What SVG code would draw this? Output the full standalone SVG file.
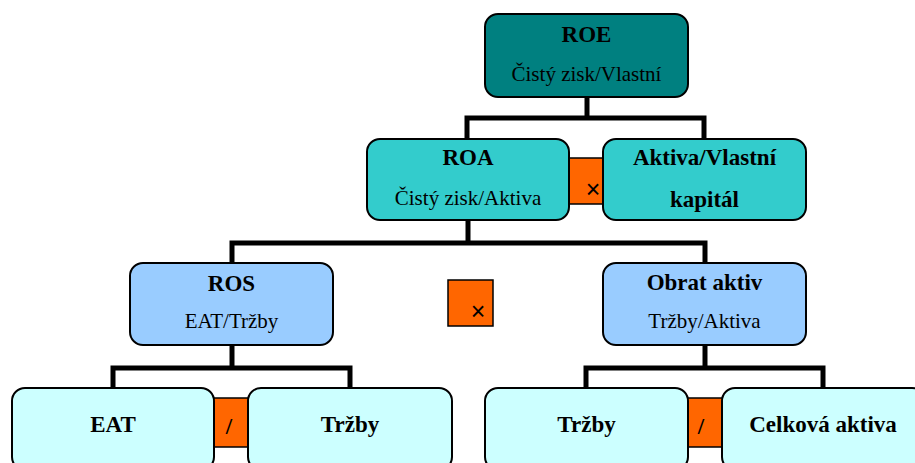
<svg xmlns="http://www.w3.org/2000/svg" width="915" height="463" viewBox="0 0 915 463">
<style>
.box{stroke:#000;stroke-width:2}
.op{fill:#FF6600;stroke:#000;stroke-width:1.5}
.conn{fill:none;stroke:#000;stroke-width:5;stroke-linejoin:miter;stroke-linecap:butt}
.t{font-family:"Liberation Serif","Times New Roman",serif;font-weight:bold;font-size:23px;text-anchor:middle;fill:#000}
.s{font-family:"Liberation Serif","Times New Roman",serif;font-size:21px;text-anchor:middle;fill:#000}
.x{font-family:"Liberation Sans",Arial,sans-serif;font-size:25px;text-anchor:middle;fill:#000}
</style>
<rect width="915" height="463" fill="#fff"/>
<g id="connectors">
<polyline class="conn" points="587,97 587,118"/>
<polyline class="conn" points="467,139 467,118 704,118 704,139"/>
<polyline class="conn" points="468,220 468,243"/>
<polyline class="conn" points="232,263 232,243 705,243 705,263"/>
<polyline class="conn" points="232,345 232,368"/>
<polyline class="conn" points="113,388 113,368 350,368 350,388"/>
<polyline class="conn" points="705,345 705,368"/>
<polyline class="conn" points="586,388 586,368 823,368 823,388"/>
</g>
<g id="op-mul-top">
<rect class="op" x="568" y="158" width="38" height="46"/>
<text class="x" x="593" y="198">×</text>
</g>
<g id="op-mul-mid">
<rect class="op" x="448" y="280" width="45" height="46"/>
<text class="x" x="478" y="320">×</text>
</g>
<g id="op-div-left">
<rect class="op" x="212" y="398" width="38" height="49"/>
<text class="t" x="229" y="434" font-size="25">/</text>
</g>
<g id="op-div-right">
<rect class="op" x="686" y="398" width="38" height="49"/>
<text class="t" x="701" y="434" font-size="25">/</text>
</g>
<g id="roe">
<rect class="box" x="485" y="14" width="203" height="83" rx="13" fill="#008080"/>
<text class="t" x="586.5" y="42">ROE</text>
<text class="s" x="586.5" y="81">Čistý zisk/Vlastní</text>
</g>
<g id="roa">
<rect class="box" x="367" y="139" width="202" height="81" rx="13" fill="#33CCCC"/>
<text class="t" x="468" y="165">ROA</text>
<text class="s" x="468" y="205">Čistý zisk/Aktiva</text>
</g>
<g id="aktiva-vlastni">
<rect class="box" x="603" y="139" width="203" height="81" rx="13" fill="#33CCCC"/>
<text class="t" x="704.5" y="165">Aktiva/Vlastní</text>
<text class="t" x="704.5" y="207">kapitál</text>
</g>
<g id="ros">
<rect class="box" x="130" y="263" width="203" height="82" rx="13" fill="#99CCFF"/>
<text class="t" x="231.5" y="291">ROS</text>
<text class="s" x="231.5" y="328">EAT/Tržby</text>
</g>
<g id="obrat-aktiv">
<rect class="box" x="603" y="263" width="203" height="82" rx="13" fill="#99CCFF"/>
<text class="t" x="704.5" y="290">Obrat aktiv</text>
<text class="s" x="704.5" y="328">Tržby/Aktiva</text>
</g>
<g id="eat">
<rect class="box" x="12" y="388" width="202" height="82" rx="13" fill="#CCFFFF"/>
<text class="t" x="113" y="432">EAT</text>
</g>
<g id="trzby-left">
<rect class="box" x="248" y="388" width="204" height="82" rx="13" fill="#CCFFFF"/>
<text class="t" x="350" y="432">Tržby</text>
</g>
<g id="trzby-right">
<rect class="box" x="485" y="388" width="203" height="82" rx="13" fill="#CCFFFF"/>
<text class="t" x="586.5" y="432">Tržby</text>
</g>
<g id="celkova-aktiva">
<rect class="box" x="722" y="388" width="203" height="82" rx="13" fill="#CCFFFF"/>
<text class="t" x="823" y="432">Celková aktiva</text>
</g>
</svg>
